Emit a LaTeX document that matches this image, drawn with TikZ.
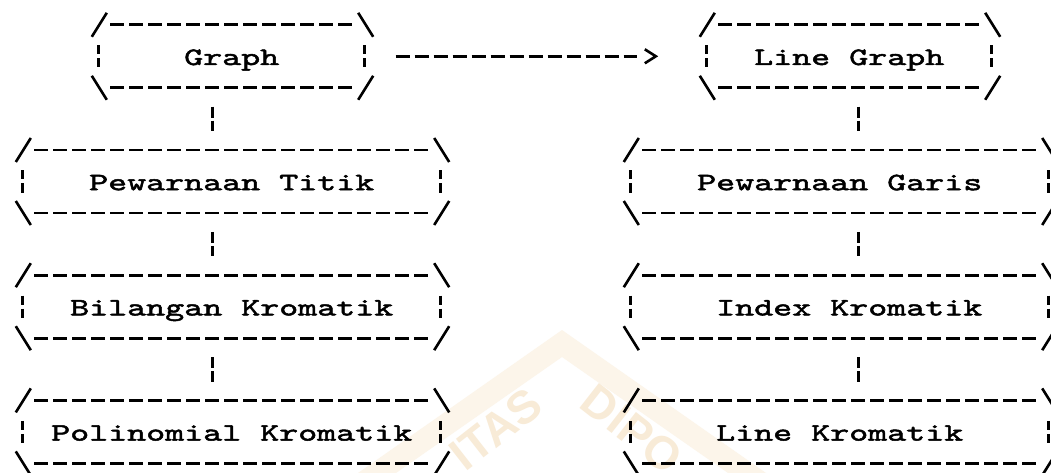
\documentclass[tikz,border=0pt]{standalone}
\usepackage{fontspec}
\newfontfamily\typefont{lmmono10-regular.otf}[FakeStretch=1.448, FakeBold=2]
\newfontfamily\markfont{Liberation Sans}
\definecolor{markpale}{RGB}{252,245,234}
\definecolor{markink}{RGB}{248,235,215}

% dashed hexagonal frame around a named box node, built from typewriter-like strokes
\newcommand\hexframe[1]{%
  \draw[slash] ([shift={(3,24)}]#1.north west) -- ([shift={(18,0)}]#1.north west);
  \draw[dashrow] ([shift={(21.5,12)}]#1.north west) -- ([shift={(-21.5,12)}]#1.north east);
  \draw[slash] ([shift={(-16,0)}]#1.north east) -- ([shift={(-1,24)}]#1.north east);
  \draw[bar] ([shift={(9.5,-11)}]#1.west) -- ([shift={(9.5,11)}]#1.west);
  \draw[bar] ([shift={(-9.5,-11)}]#1.east) -- ([shift={(-9.5,11)}]#1.east);
  \draw[slash] ([shift={(3,-24)}]#1.south west) -- ([shift={(18,0)}]#1.south west);
  \draw[dashrow] ([shift={(21.5,-12)}]#1.south west) -- ([shift={(-21.5,-12)}]#1.south east);
  \draw[slash] ([shift={(-16,0)}]#1.south east) -- ([shift={(-1,-24)}]#1.south east);
}

\begin{document}
\begin{tikzpicture}[x=1pt,y=-1pt,
  ink/.style={line width=2.6pt, black},
  slash/.style={ink},
  dashrow/.style={ink, dash pattern=on 14pt off 5pt},
  bar/.style={ink, dash pattern=on 9pt off 4pt on 9pt off 10pt},
  conn/.style={ink, dash pattern=on 11pt off 3pt on 11pt off 10pt, shorten <=6.8pt, shorten >=6.8pt},
  boxnode/.style={draw=none, inner sep=0pt, minimum height=86.6pt},
  boxtext/.style={anchor=base west, inner sep=0pt, text=black,
    font=\typefont\fontsize{25}{30}\selectfont},
  sealtext/.style={inner sep=0pt, text=markink, font=\markfont\bfseries\fontsize{46}{50}\selectfont},
]
\useasboundingbox (0,0) rectangle (1051,473);
\clip (0,0) rectangle (1051,473);
\fill[white] (0,0) rectangle (1051,473);

% faint background seal
\fill[markpale] (358,473) -- (562,330) -- (766,473) -- (728,473) -- (562,357) -- (396,473) -- cycle;
\node[sealtext, rotate=38] (sealleft) at (496,429) {ITAS};
\node[sealtext, rotate=-38] (sealright) at (632,429) {DIPO};

% boxes
\node[boxnode, minimum width=285pt] (graph) at (231.5,56.3) {};
\node[boxnode, minimum width=304pt] (linegraph) at (849,56.3) {};
\node[boxnode, minimum width=437pt] (ptitik) at (231.5,181.5) {};
\node[boxnode, minimum width=437pt] (bilangan) at (231.5,306.7) {};
\node[boxnode, minimum width=437pt] (polinom) at (231.5,431.9) {};
\node[boxnode, minimum width=437pt] (pgaris) at (839.5,181.5) {};
\node[boxnode, minimum width=437pt] (index) at (839.5,306.7) {};
\node[boxnode, minimum width=437pt] (linekrom) at (839.5,431.9) {};

\foreach \b in {graph,linegraph,ptitik,bilangan,polinom,pgaris,index,linekrom}{\hexframe{\b}}

% box texts
\node[boxtext] (graphtxt) at (184,65) {Graph};
\node[boxtext] (linegraphtxt) at (754,65) {Line Graph};
\node[boxtext] (ptitiktxt) at (89,190.2) {Pewarnaan Titik};
\node[boxtext] (bilangantxt) at (70,315.4) {Bilangan Kromatik};
\node[boxtext] (polinomtxt) at (51,440.6) {Polinomial Kromatik};
\node[boxtext] (pgaristxt) at (697,190.2) {Pewarnaan Garis};
\node[boxtext] (indextxt) at (716,315.4) {Index Kromatik};
\node[boxtext] (linekromtxt) at (716,440.6) {Line Kromatik};

% vertical links
\coordinate (lc) at (212.5,0);
\coordinate (rc) at (858.5,0);
\draw[conn] (graph.south -| lc) -- (ptitik.north -| lc);
\draw[conn] (ptitik.south -| lc) -- (bilangan.north -| lc);
\draw[conn] (bilangan.south -| lc) -- (polinom.north -| lc);
\draw[conn] (linegraph.south -| rc) -- (pgaris.north -| rc);
\draw[conn] (pgaris.south -| rc) -- (index.north -| rc);
\draw[conn] (index.south -| rc) -- (linekrom.north -| rc);

% arrow Graph -> Line Graph
\draw[dashrow, shorten <=21.5pt, shorten >=59.5pt] (graph.east) -- (linegraph.west);
\draw[slash] ([shift={(-52,-7)}]linegraph.west) -- ([shift={(-41,0)}]linegraph.west) -- ([shift={(-52,7)}]linegraph.west);
\end{tikzpicture}
\end{document}
